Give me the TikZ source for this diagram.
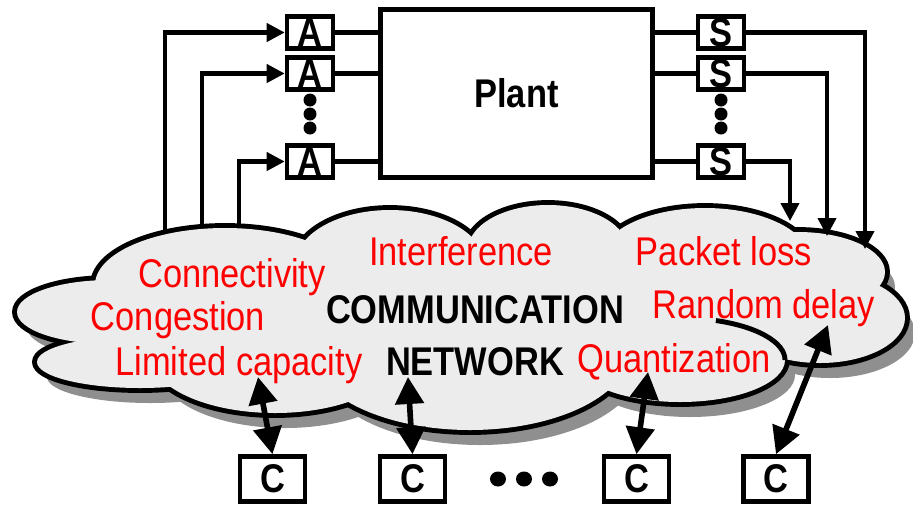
\documentclass[tikz,border=0pt]{standalone}
\usepackage{fontspec}
\setmainfont[FakeStretch=0.86]{Liberation Sans}
\usetikzlibrary{arrows.meta}
\definecolor{cloudfill}{RGB}{236,236,236}
\definecolor{cloudshade}{RGB}{143,143,143}
% lobes of the cloud: centre x / centre y / x radius / y radius
\def\lobes{225/-285/130/57, 110/-312/93/32, 140/-362/103/26, 275/-355/125/58,
  470/-350/160/80, 680/-360/105/42, 820/-318/85/45, 798/-272/87/40,
  705/-260/105/52, 548/-250/80/45, 390/-265/95/55}

\begin{document}
\begin{tikzpicture}[x=0.02cm,y=0.02cm,>={Triangle[length=0.36cm,width=0.36cm]},
  box/.style={draw,line width=2.6pt,fill=white,inner sep=0pt,font=\fontsize{22.8}{27}\selectfont\bfseries},
  small/.style={box,minimum width=0.92cm,minimum height=0.64cm},
  ctrl/.style={box,minimum width=1.3cm,minimum height=0.9cm},
  issue/.style={anchor=base,text=red,font=\fontsize{22.8}{27}\selectfont},
  netname/.style={anchor=base,font=\fontsize{22.8}{27}\selectfont\bfseries},
  link/.style={line width=2.3pt},
  both/.style={line width=3.2pt,{Triangle[length=0.54cm,width=0.56cm]}-{Triangle[length=0.54cm,width=0.56cm]}}]
\useasboundingbox (0,0) rectangle (913,-505);

% cloud
\foreach \cx/\cy/\rx/\ry in \lobes
  \fill[cloudshade] (\cx+10,\cy-15) ellipse [x radius=\rx,y radius=\ry];
\fill[cloudshade] (570,-315) ellipse [x radius=200,y radius=60];
\foreach \cx/\cy/\rx/\ry in \lobes
  \draw[line width=5.6pt] (\cx,\cy) ellipse [x radius=\rx,y radius=\ry];
\foreach \cx/\cy/\rx/\ry in \lobes
  \fill[cloudfill] (\cx,\cy) ellipse [x radius=\rx,y radius=\ry];
\fill[cloudfill] (560,-300) ellipse [x radius=200,y radius=60];
\draw[line width=2.8pt] (785,-360) arc [start angle=0,end angle=70,x radius=105,y radius=42];

\node[issue] (conn) at (232,-287) {Connectivity};
\node[issue] (cong) at (178,-330) {Congestion};
\node[issue] (limcap) at (239,-375) {Limited capacity};
\node[issue] (interf) at (461,-265) {Interference};
\node[netname] (comm) at (475,-323) {COMMUNICATION};
\node[netname] (netw) at (475,-375) {NETWORK};
\node[issue] (ploss) at (724,-265) {Packet loss};
\node[issue] (rdelay) at (764,-318) {Random delay};
\node[issue] (quant) at (674,-372) {Quantization};

% plant, actuators, sensors
\node[box,minimum width=5.44cm,minimum height=3.36cm] (plant) at (516.5,-93.5) {Plant};
\node[small] (a1) at (310,-32.5) {A};
\node[small] (a2) at (310,-73.5) {A};
\node[small] (a3) at (310,-161.5) {A};
\node[small] (s1) at (721,-32.5) {S};
\node[small] (s2) at (721,-73.5) {S};
\node[small] (s3) at (721,-161.5) {S};
\fill (310,-100) circle (6.5) (310,-114) circle (6.5) (310,-128) circle (6.5);
\fill (721,-100) circle (6.5) (721,-114) circle (6.5) (721,-128) circle (6.5);

\draw[link] (a1.east) -- (a1.east -| plant.west);
\draw[link] (a2.east) -- (a2.east -| plant.west);
\draw[link] (a3.east) -- (a3.east -| plant.west);
\draw[link] (s1.west) -- (s1.west -| plant.east);
\draw[link] (s2.west) -- (s2.west -| plant.east);
\draw[link] (s3.west) -- (s3.west -| plant.east);

\coordinate (in1) at (165,-232);
\coordinate (in2) at (202,-228);
\coordinate (in3) at (239,-227);
\draw[link,->] (in1) |- (a1.west);
\draw[link,->] (in2) |- (a2.west);
\draw[link,->] (in3) |- (a3.west);

\coordinate (out1) at (865,-249);
\coordinate (out2) at (827,-236);
\coordinate (out3) at (790,-221);
\draw[link,->] (s1.east) -| (out1);
\draw[link,->] (s2.east) -| (out2);
\draw[link,->] (s3.east) -| (out3);

% controllers
\node[ctrl] (c1) at (272.5,-479) {C};
\node[ctrl] (c2) at (412.5,-479) {C};
\node[ctrl] (c3) at (636.5,-479) {C};
\node[ctrl] (c4) at (776,-479) {C};
\fill (498,-479) ellipse [x radius=8,y radius=7.5] (524,-479) ellipse [x radius=8,y radius=7.5]
  (550,-479) ellipse [x radius=8,y radius=7.5];

\coordinate (k1) at (258,-377);
\coordinate (k2) at (408,-377);
\coordinate (k3) at (648,-372);
\coordinate (k4) at (828,-325);
\draw[both] (c1.north) -- (k1);
\draw[both] (c2.north) -- (k2);
\draw[both] (c3.north) -- (k3);
\draw[both] (c4.north) -- (k4);
\end{tikzpicture}
\end{document}
